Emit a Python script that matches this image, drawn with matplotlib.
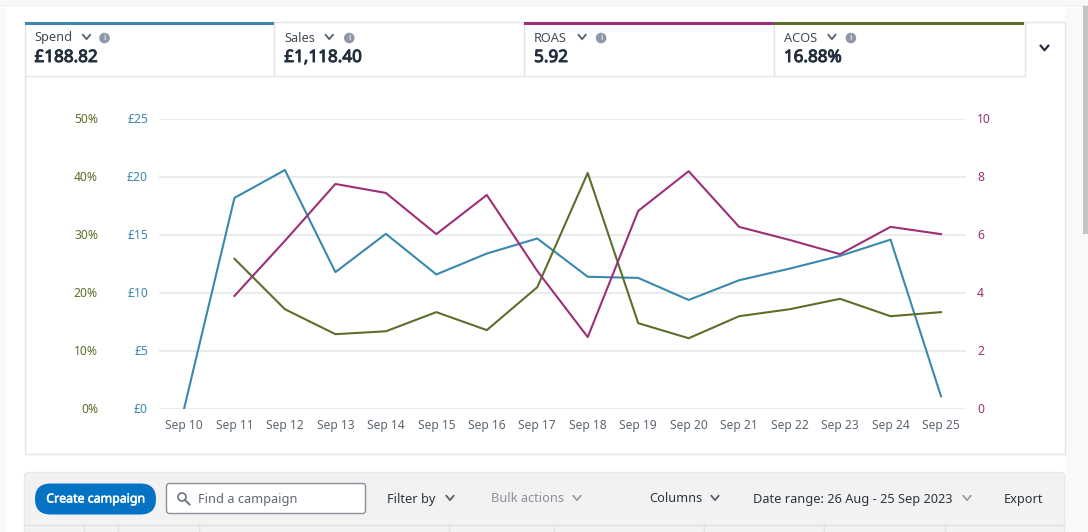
import matplotlib
matplotlib.use("Agg")
import matplotlib.pyplot as plt
import matplotlib.patheffects as pe
from matplotlib.patches import Rectangle, FancyBboxPatch, Circle
from matplotlib.lines import Line2D
from matplotlib.transforms import ScaledTranslation

plt.rcParams['font.family'] = ['Noto Sans', 'DejaVu Sans']

dates = ["Sep 10", "Sep 11", "Sep 12", "Sep 13", "Sep 14", "Sep 15", "Sep 16", "Sep 17",
         "Sep 18", "Sep 19", "Sep 20", "Sep 21", "Sep 22", "Sep 23", "Sep 24", "Sep 25"]
spend = [0, 18.2, 20.6, 11.8, 15.1, 11.6, 13.4, 14.7, 11.4, 11.3, 9.4, 11.1, 12.1, 13.2, 14.6, 1.1]
acos_dates = dates[1:]
acos = [25.9, 17.2, 12.9, 13.4, 16.7, 13.6, 21.0, 40.7, 14.8, 12.2, 16.0, 17.2, 19.0, 16.0, 16.7]
roas = [3.9, 5.8, 7.76, 7.45, 6.03, 7.38, 4.76, 2.48, 6.83, 8.2, 6.28, 5.83, 5.34, 6.28, 6.03]
spend_ticks = [0, 5, 10, 15, 20, 25]
acos_ticks = [0, 10, 20, 30, 40, 50]
roas_ticks = [0, 2, 4, 6, 8, 10]
cards = [("Spend", "£188.82", "#3a88ad"), ("Sales", "£1,118.40", None),
         ("ROAS", "5.92", "#9c2f78"), ("ACOS", "16.88%", "#5c6f2a")]
toolbar = [("Filter by", 387, "#2a3440", 444), ("Bulk actions", 491, "#8a9099", 571),
           ("Columns", 649, "#2a3440", 709), ("Date range: 26 Aug - 25 Sep 2023", 753, "#2a3440", 961),
           ("Export", 1004, "#2a3440", None)]

W, H = 1088, 532
BLUE, PURPLE, OLIVE = "#3a88ad", "#9c2f78", "#5c6f2a"
BORDER = "#e3e5e7"
fig = plt.figure(figsize=(W / 100, H / 100), dpi=100, facecolor="white")

ui = fig.add_axes([0, 0, 1, 1], zorder=0)
ui.set_xlim(0, W)
ui.set_ylim(H, 0)
ui.axis("off")


def rect(x, y, w, h, fc="none", ec="none", lw=1.0, z=1):
    ui.add_patch(Rectangle((x, y), w, h, facecolor=fc, edgecolor=ec, linewidth=lw, zorder=z))


def chevron(cx, cy, color, s=3.6, lw=1.3):
    ui.add_line(Line2D([cx - s, cx, cx + s], [cy - s * 0.6, cy + s * 0.6, cy - s * 0.6],
                       color=color, lw=lw, zorder=4))


def bold(w):
    return [pe.withStroke(linewidth=w, foreground="#232f3e")]


rect(0, 0, W, 5, fc="#f7f8fa")
rect(0, 5, W, 1, fc="#eceef0")
rect(0, 6, 6, H, fc="#f8f9fb")
rect(1065, 6, 23, H, fc="#f8f9fb")
rect(1083, 6, 5, 228, fc="#c4c4c4")
rect(24.5, 21.5, 1040, 432, fc="white", ec=BORDER, lw=1, z=1)
ui.add_line(Line2D([25, 1024.5], [75.5, 75.5], color=BORDER, lw=1, zorder=2))
ui.add_line(Line2D([1024.5, 1024.5], [22, 75.5], color=BORDER, lw=1, zorder=2))

card_w = 249.8
chev_off = {"Spend": (62, 80), "Sales": (55, 75), "ROAS": (58, 77), "ACOS": (58, 77)}
for i, (label, value, color) in enumerate(cards):
    x0 = 24.5 + i * card_w
    if i:
        ui.add_line(Line2D([x0, x0], [23, 75], color=BORDER, lw=1, zorder=2))
    if color:
        rect(x0, 22, card_w, 3, fc=color, z=3)
    ui.text(x0 + 10, 38, label, fontsize=9.2, color="#3f4a57", va="center", ha="left")
    ui.text(x0 + 10, 58, value, fontsize=12.3, color="#232f3e", va="center", ha="left",
            path_effects=bold(0.7))
    c, inf = chev_off[label]
    chevron(x0 + c, 37, "#56606c")
    ui.add_patch(Circle((x0 + inf, 38), 5.3, facecolor="#8d97a6", edgecolor="none", zorder=4))
    ui.text(x0 + inf, 38, "i", fontsize=6.5, color="white", fontweight="bold", va="center", ha="center", zorder=5)
chevron(1044.5, 48, "#232f3e", s=3.8, lw=1.6)

# toolbar
ui.add_patch(FancyBboxPatch((24.5, 472.5), 1040, 70, boxstyle="round,pad=0,rounding_size=3",
                            facecolor="#f2f2f2", edgecolor="#e8e8e8", lw=1, zorder=1))
ui.add_line(Line2D([25, 1065], [524.5, 524.5], color="#e2e2e2", lw=1, zorder=2))
for x in [84, 118, 199, 449, 554, 704, 824, 945]:
    ui.add_line(Line2D([x, x], [525, 532], color="#e2e2e2", lw=1, zorder=2))
ui.add_patch(FancyBboxPatch((35, 483.5), 121, 31, boxstyle="round,pad=0,rounding_size=15.5",
                            facecolor="#0573c4", edgecolor="none", zorder=3))
ui.text(95.5, 499, "Create campaign", fontsize=8.9, color="white", ha="center", va="center", zorder=4,
        path_effects=[pe.withStroke(linewidth=0.4, foreground="white")])
ui.add_patch(FancyBboxPatch((166.5, 483.5), 199, 30, boxstyle="round,pad=0,rounding_size=3",
                            facecolor="white", edgecolor="#8a9099", lw=1, zorder=3))
ui.add_patch(Circle((182, 497), 4, facecolor="none", edgecolor="#6c7683", lw=1.2, zorder=4))
ui.add_line(Line2D([185, 189.5], [500, 504.5], color="#6c7683", lw=1.4, zorder=4))
ui.text(198, 499, "Find a campaign", fontsize=9.2, color="#5d6874", ha="left", va="center", zorder=4)
for text, x, color, chev in toolbar:
    ui.text(x, 499, text, fontsize=9.2, color=color, ha="left", va="center", zorder=4)
    if chev:
        light = color == "#8a9099" or text.startswith("Date")
        chevron(chev + 6, 498, "#9aa0a8" if light else "#56606c")

# chart axes
left, right, top, bottom = 159, 966, 119, 409
pos = [left / W, 1 - bottom / H, (right - left) / W, (bottom - top) / H]
ax = fig.add_axes(pos, zorder=2, facecolor="none")
ax_acos = fig.add_axes(pos, zorder=3, facecolor="none", sharex=ax)
ax_roas = fig.add_axes(pos, zorder=4, facecolor="none", sharex=ax)

xs = list(range(len(dates)))
xs_acos = [dates.index(d) for d in acos_dates]
step = (941 - 184) / 15
ax.set_xlim(-(184 - left) / step, 15 + (right - 941) / step)

ax.plot(xs, spend, color=BLUE, lw=1.5, zorder=3)
ax_acos.plot(xs_acos, acos, color=OLIVE, lw=1.5, zorder=3)
ax_roas.plot(xs_acos, roas, color=PURPLE, lw=1.5, zorder=3)

ax.set_ylim(0, 25)
ax_acos.set_ylim(0, 50)
ax_roas.set_ylim(0, 10)

ax.set_yticks(spend_ticks, [f"£{v}" for v in spend_ticks])
ax_acos.set_yticks(acos_ticks, [f"{v}%" for v in acos_ticks])
ax_roas.set_yticks(roas_ticks, [str(v) for v in roas_ticks])
ax_roas.yaxis.tick_right()

ax.grid(axis="y", color="#e6e7e9", lw=1.2)
ax.set_axisbelow(True)
ax.set_xticks(xs, dates)
ax.tick_params(axis="x", length=0, pad=10 * 0.72, labelsize=8.7, labelcolor="#5b6673")
ax.tick_params(axis="y", length=0, pad=11 * 0.72, labelsize=8.7, labelcolor=BLUE)
ax_acos.tick_params(axis="y", length=0, pad=61 * 0.72, labelsize=8.7, labelcolor=OLIVE)
ax_roas.tick_params(axis="y", length=0, pad=11 * 0.72, labelsize=8.7, labelcolor=PURPLE)
ax_acos.tick_params(axis="x", length=0, labelbottom=False)
ax_roas.tick_params(axis="x", length=0, labelbottom=False)

for a in (ax, ax_acos, ax_roas):
    for s in a.spines.values():
        s.set_visible(False)
    for lab in a.get_yticklabels():
        lab.set_transform(lab.get_transform() + ScaledTranslation(0, 1 / 100, fig.dpi_scale_trans))

fig.savefig("out.png", dpi=100, facecolor="white")
